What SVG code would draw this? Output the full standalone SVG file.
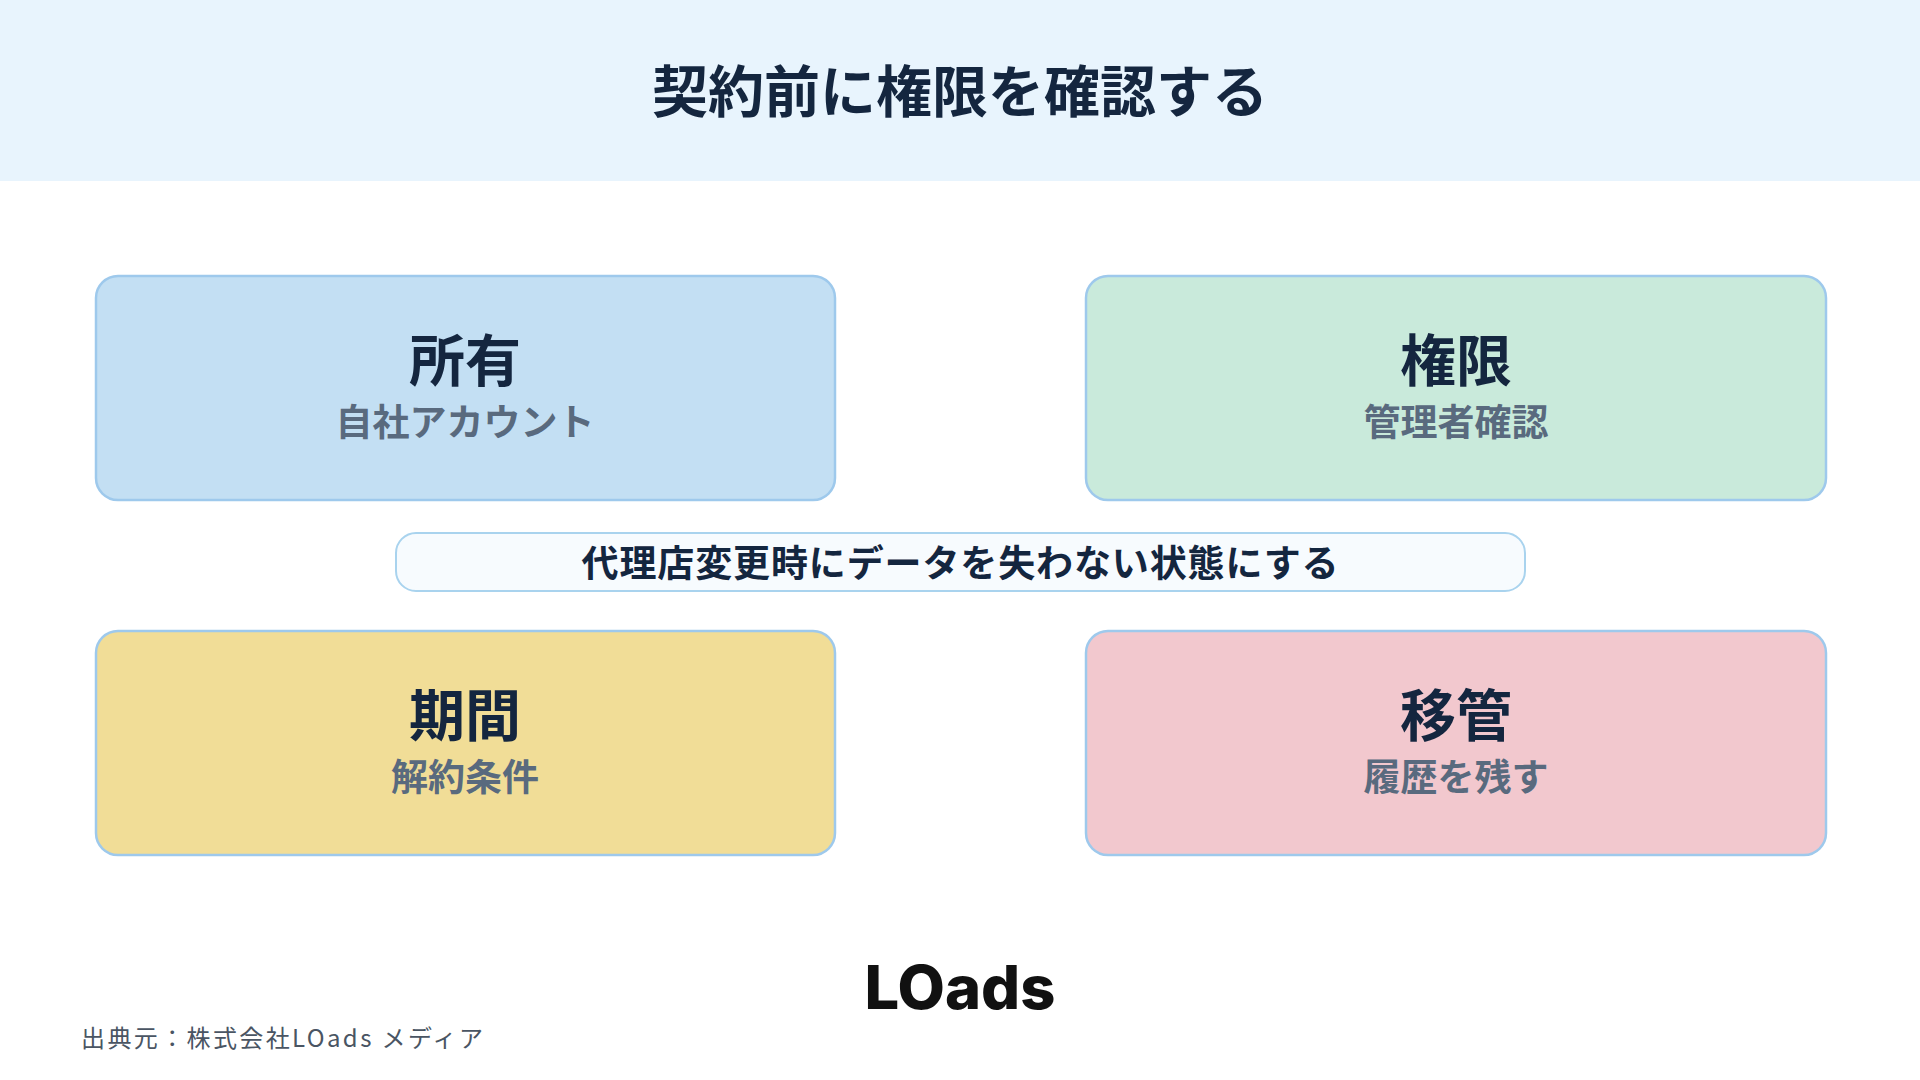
<svg xmlns="http://www.w3.org/2000/svg" width="1920" height="1080" viewBox="0 0 1920 1080">
<style>
text{font-family:"Noto Sans CJK JP","Noto Sans",sans-serif;text-anchor:middle;dominant-baseline:central}
.box{stroke:#9EC9EC;stroke-width:2.5}
.t{font-size:56px;font-weight:700;fill:#14263F}
.s{font-size:37px;font-weight:700;fill:#596A7E}
</style>
<rect width="1920" height="1080" fill="#fff"/>
<rect width="1920" height="181" fill="#E8F4FD"/>
<text x="960" y="87" style="font-size:56px;font-weight:700;fill:#14263F">契約前に権限を確認する</text>
<g id="n1"><rect class="box" x="96" y="276" width="739" height="224" rx="22" fill="#C3DFF3"/><text class="t" x="465" y="356">所有</text><text class="s" x="465" y="420">自社アカウント</text></g>
<g id="n2"><rect class="box" x="1086" y="276" width="740" height="224" rx="22" fill="#C9EADB"/><text class="t" x="1456" y="356">権限</text><text class="s" x="1456" y="420">管理者確認</text></g>
<g id="n3"><rect class="box" x="96" y="631" width="739" height="224" rx="22" fill="#F1DD97"/><text class="t" x="465" y="711">期間</text><text class="s" x="465" y="775">解約条件</text></g>
<g id="n4"><rect class="box" x="1086" y="631" width="740" height="224" rx="22" fill="#F2C8CE"/><text class="t" x="1456" y="711">移管</text><text class="s" x="1456" y="775">履歴を残す</text></g>
<g id="center"><rect x="396" y="533" width="1129" height="58" rx="20" fill="#F7FBFE" stroke="#A9D3EE" stroke-width="2"/><text x="960" y="561" style="font-size:37px;font-weight:700;fill:#14263F" textLength="757">代理店変更時にデータを失わない状態にする</text></g>
<g id="connectors"></g>
<text x="960" y="987" style="font-family:Inter,'Liberation Sans',sans-serif;font-size:60px;font-weight:800;fill:#111" textLength="191" lengthAdjust="spacingAndGlyphs">LOads</text>
<text x="81" y="1036" style="text-anchor:start;font-size:24px;fill:#4A5563" textLength="402">出典元：株式会社LOads メディア</text>
</svg>
